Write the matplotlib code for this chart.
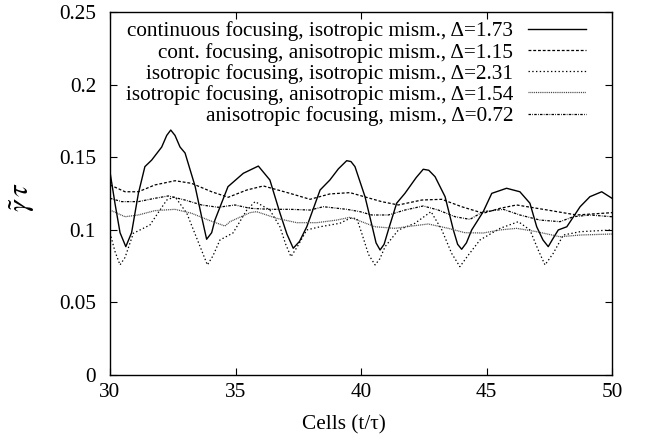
import matplotlib
matplotlib.use("Agg")
import matplotlib.pyplot as plt

plt.rcParams['font.family'] = ['Liberation Serif', 'DejaVu Serif']
plt.rcParams['mathtext.fontset'] = 'stix'

# continuous focusing, isotropic mismatch, Delta=1.73
t_cont_iso = [30.00, 30.20, 30.40, 30.63, 30.86, 31.13, 31.39, 31.66, 32.06, 32.26, 32.42, 32.59,
              32.79, 32.99, 33.39, 33.65, 33.85, 34.05, 34.18, 34.70, 35.31, 35.91, 36.37,
              36.77, 37.05, 37.30, 37.55, 37.84, 38.37, 38.76, 39.10, 39.43, 39.60, 39.76, 40.16,
              40.45, 40.60, 40.76, 40.92, 41.09, 41.42, 41.75, 42.20,
              42.48, 42.70, 42.95, 43.35, 43.68, 43.85, 44.01, 44.20, 44.41, 44.87, 45.21, 45.80,
              46.33, 46.73, 47.00, 47.25,
              47.46, 47.65, 47.86, 48.20, 48.73, 49.12, 49.59, 50.00]
v_cont_iso = [0.1398, 0.1180, 0.0980, 0.0884, 0.0980, 0.1250, 0.1435, 0.1480, 0.1570, 0.1650, 0.1687, 0.1650,
              0.1570, 0.1529, 0.1300, 0.1090, 0.0935, 0.0980, 0.1067, 0.1297, 0.1389, 0.1439, 0.1343,
              0.1116, 0.0970, 0.0873, 0.0920, 0.1021, 0.1274, 0.1343, 0.1420, 0.1476, 0.1470, 0.1435, 0.1228,
              0.1020, 0.0910, 0.0861, 0.0900, 0.0999, 0.1183, 0.1251, 0.1360,
              0.1417, 0.1410, 0.1366, 0.1228, 0.0999, 0.0900, 0.0866, 0.0910, 0.0999, 0.1125, 0.1251, 0.1286,
              0.1262, 0.1183, 0.1021, 0.0930,
              0.0884, 0.0940, 0.0999, 0.1021, 0.1159, 0.1228, 0.1262, 0.1217]

# cont. focusing, anisotropic mismatch, Delta=1.15
t_cont_aniso = [30.00, 30.60, 31.13, 31.79, 32.59, 33.25, 34.05, 34.71, 35.45, 36.11, 37.17, 37.97,
                38.76, 39.56, 40.82, 41.49, 42.42, 43.22, 44.01, 44.87, 45.54, 46.20, 47.40, 48.59, 50.00]
v_cont_aniso = [0.1309, 0.1262, 0.1262, 0.1309, 0.1338, 0.1320, 0.1262, 0.1224, 0.1274, 0.1302, 0.1251, 0.1210,
                0.1247, 0.1256, 0.1194, 0.1171, 0.1205, 0.1210, 0.1159, 0.1114, 0.1148, 0.1171, 0.1137, 0.1102, 0.1118]

# isotropic focusing, isotropic mismatch, Delta=2.31
t_iso_iso = [30.00, 30.20, 30.40, 30.60, 30.93, 31.59, 32.26, 32.59, 33.06, 33.59, 33.88, 34.10, 34.38, 34.90,
             35.45, 35.78, 36.37, 36.77, 37.00, 37.21, 37.45, 37.84, 38.37, 39.16, 39.56, 39.83, 40.03,
             40.30, 40.56, 40.75, 40.96, 41.49, 42.15, 42.79, 43.22, 43.61, 43.94, 44.25, 44.74, 45.54,
             46.27, 46.73, 47.06, 47.33, 47.66, 48.06, 48.73, 50.00]
v_iso_iso = [0.0978, 0.0850, 0.0758, 0.0810, 0.0976, 0.1033, 0.1205, 0.1228, 0.1114, 0.0884, 0.0758, 0.0820, 0.0930, 0.0978,
             0.1136, 0.1194, 0.1136, 0.1021, 0.0900, 0.0815, 0.0880, 0.0999, 0.1021, 0.1045, 0.1079, 0.1079, 0.0976,
             0.0830, 0.0758, 0.0800, 0.0884, 0.0999, 0.1045, 0.1125, 0.0999, 0.0838, 0.0746, 0.0820, 0.0930, 0.1010,
             0.1056, 0.0999, 0.0861, 0.0758, 0.0838, 0.0964, 0.0987, 0.0999]

# isotropic focusing, anisotropic mismatch, Delta=1.54
t_iso_aniso = [30.00, 30.60, 31.13, 31.79, 32.59, 33.25, 33.92, 34.58, 34.78, 35.58, 35.84, 36.64,
               37.44, 38.24, 39.03, 39.56, 40.56, 41.35, 42.02, 42.68, 43.48, 44.14, 44.87, 45.54,
               46.20, 47.00, 47.93, 48.73, 50.00]
v_iso_aniso = [0.1136, 0.1090, 0.1102, 0.1132, 0.1141, 0.1114, 0.1067, 0.1026, 0.1056, 0.1118, 0.1125, 0.1079,
               0.1049, 0.1049, 0.1067, 0.1086, 0.1021, 0.1010, 0.1026, 0.1040, 0.1010, 0.0980, 0.0978, 0.0999,
               0.1010, 0.0987, 0.0952, 0.0964, 0.0971]

# anisotropic focusing, mismatch, Delta=0.72
t_aniso = [30.00, 30.47, 31.13, 31.79, 32.32, 32.99, 33.65, 34.31, 34.98, 35.58, 36.37, 37.17,
           37.97, 38.50, 39.43, 39.96, 40.43, 41.09, 41.75, 42.48, 43.08, 43.75, 44.34, 44.87,
           45.67, 46.33, 47.13, 47.93, 48.46, 49.12, 50.00]
v_aniso = [0.1217, 0.1194, 0.1194, 0.1217, 0.1233, 0.1205, 0.1171, 0.1155, 0.1171, 0.1148, 0.1141, 0.1141,
           0.1136, 0.1159, 0.1141, 0.1125, 0.1102, 0.1102, 0.1136, 0.1164, 0.1136, 0.1090, 0.1072, 0.1125,
           0.1141, 0.1102, 0.1067, 0.1056, 0.1090, 0.1102, 0.1090]

labels = [
    "continuous focusing, isotropic mism., \u0394=1.73",
    "cont. focusing, anisotropic mism., \u0394=1.15",
    "isotropic focusing, isotropic mism., \u0394=2.31",
    "isotropic focusing, anisotropic mism., \u0394=1.54",
    "anisotropic focusing, mism., \u0394=0.72",
]

x_ticks = [30, 35, 40, 45, 50]
y_ticks = [0, 0.05, 0.1, 0.15, 0.2, 0.25]
y_tick_labels = ["0", "0.05", "0.1", "0.15", "0.2", "0.25"]

FS = 15.3

fig = plt.figure(figsize=(6.46, 4.44), dpi=100)
ax = fig.add_axes([110/646, 1-375/444, 502/646, 363/444])

ax.plot(t_cont_iso, v_cont_iso, color='black', lw=1.0, ls='-', label=labels[0])
ax.plot(t_cont_aniso, v_cont_aniso, color='black', lw=0.9, ls=(0, (2.3, 1.5)), label=labels[1])
ax.plot(t_iso_iso, v_iso_iso, color='black', lw=0.9, ls=(0, (1.1, 1.9)), label=labels[2])
ax.plot(t_iso_aniso, v_iso_aniso, color='#444444', lw=0.9, ls=(0, (0.8, 0.7)), label=labels[3])
ax.plot(t_aniso, v_aniso, color='black', lw=0.9, ls=(0, (2.0, 1.0, 0.6, 1.0)), label=labels[4])

ax.set_xlim(30, 50)
ax.set_ylim(0, 0.25)
ax.set_xticks(x_ticks)
ax.set_xticklabels([str(v) for v in x_ticks])
ax.set_yticks(y_ticks)
ax.set_yticklabels(y_tick_labels)
ax.tick_params(direction='in', length=5, width=0.8, top=True, right=True, labelsize=FS)
ax.tick_params(axis='y', pad=10)
ax.tick_params(axis='x', pad=6)
for s in ax.spines.values():
    s.set_linewidth(1.0)

ax.set_xlabel("Cells (t/\u03c4)", fontsize=FS)
ax.xaxis.set_label_coords(0.466, -0.11)
ax.set_ylabel(r"$\tilde{\gamma}\,\tau$", fontsize=21)
ax.yaxis.set_label_coords(-0.145, 0.49)

leg = ax.legend(loc='upper right', bbox_to_anchor=(0.948, 0.974), markerfirst=False, frameon=False,
                fontsize=FS, handlelength=2.73, handletextpad=0.7, labelspacing=0.06,
                borderpad=0.0, borderaxespad=0.0)

fig.savefig("out.png", dpi=100)
